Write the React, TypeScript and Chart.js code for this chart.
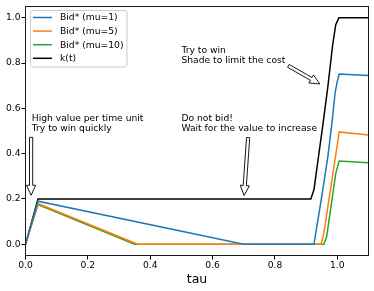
import React, { useEffect, useRef } from "react";
import { Chart, registerables } from "chart.js";

Chart.register(...registerables);

// ---- data ----
const seriesLabels = ["Bid* (mu=1)", "Bid* (mu=5)", "Bid* (mu=10)", "k(t)"];
const seriesColors = ["#1f77b4", "#ff7f0e", "#2ca02c", "#000000"];

const tauMu1 = [0, 0.04, 0.7, 0.925, 0.95, 0.97, 0.984, 0.993, 1.0, 1.006, 1.1];
const bidMu1 = [0, 0.19, 0, 0, 0.21, 0.39, 0.55, 0.67, 0.72, 0.752, 0.745];

const tauMu5 = [0, 0.04, 0.36, 0.948, 0.957, 0.989, 1.0, 1.006, 1.1];
const bidMu5 = [0, 0.18, 0, 0, 0.05, 0.34, 0.44, 0.496, 0.482];

const tauMu10 = [0, 0.04, 0.35, 0.957, 0.966, 0.995, 1.006, 1.1];
const bidMu10 = [0, 0.175, 0, 0, 0.035, 0.313, 0.367, 0.36];

const tauK = [0, 0.04, 0.915, 0.925, 0.94, 0.955, 0.97, 0.985, 0.995, 1.005, 1.1];
const kVals = [0, 0.2, 0.2, 0.24, 0.39, 0.54, 0.7, 0.88, 0.97, 1.0, 1.0];

const xTicks = [0, 0.2, 0.4, 0.6, 0.8, 1.0];
const yTicks = [0, 0.2, 0.4, 0.6, 0.8, 1.0];
const xMin = 0, xMax = 1.1, yMin = -0.05, yMax = 1.05;
const xTitle = "tau";

// annotations (data coordinates)
const noteTexts = [
  ["High value per time unit", "Try to win quickly"],
  ["Do not bid!", "Wait for the value to increase"],
  ["Try to win", "Shade to limit the cost"],
];
const notePos = [
  [0.02, 0.5],
  [0.5, 0.5],
  [0.5, 0.8],
];
const arrowFrom = [
  [0.018, 0.472],
  [0.714, 0.471],
  [0.843, 0.788],
];
const arrowTo = [
  [0.018, 0.216],
  [0.701, 0.215],
  [0.944, 0.708],
];

const FONT = '"DejaVu Sans", sans-serif';

const toPts = (xs: number[], ys: number[]) => xs.map((x, i) => ({ x, y: ys[i] }));

const overlayPlugin = {
  id: "overlay",
  afterDatasetsDraw(chart: any) {
    const ctx = chart.ctx as CanvasRenderingContext2D;
    const { left, right, top, bottom } = chart.chartArea;
    const xs = chart.scales.x;
    const ys = chart.scales.y;
    ctx.save();

    // frame
    ctx.strokeStyle = "#1a1a1a";
    ctx.lineWidth = 1;
    ctx.strokeRect(left, top, right - left, bottom - top);

    // arrows
    for (let i = 0; i < arrowFrom.length; i++) {
      const sx = xs.getPixelForValue(arrowFrom[i][0]);
      const sy = ys.getPixelForValue(arrowFrom[i][1]);
      const tx = xs.getPixelForValue(arrowTo[i][0]);
      const ty = ys.getPixelForValue(arrowTo[i][1]);
      const len = Math.hypot(tx - sx, ty - sy);
      const dx = (tx - sx) / len, dy = (ty - sy) / len;
      const nx = -dy, ny = dx;
      const hl = 10, hw = 4.6, sw = 1.6;
      const bx = tx - dx * hl, by = ty - dy * hl;
      ctx.beginPath();
      ctx.moveTo(sx + nx * sw, sy + ny * sw);
      ctx.lineTo(bx + nx * sw, by + ny * sw);
      ctx.lineTo(bx + nx * hw, by + ny * hw);
      ctx.lineTo(tx, ty);
      ctx.lineTo(bx - nx * hw, by - ny * hw);
      ctx.lineTo(bx - nx * sw, by - ny * sw);
      ctx.lineTo(sx - nx * sw, sy - ny * sw);
      ctx.closePath();
      ctx.fillStyle = "#fff";
      ctx.fill();
      ctx.strokeStyle = "#000";
      ctx.lineWidth = 0.9;
      ctx.stroke();
    }

    // annotation texts
    ctx.fillStyle = "#000";
    ctx.font = `9.2px ${FONT}`;
    ctx.textAlign = "left";
    ctx.textBaseline = "alphabetic";
    for (let i = 0; i < noteTexts.length; i++) {
      const px = xs.getPixelForValue(notePos[i][0]);
      const py = ys.getPixelForValue(notePos[i][1]);
      const lines = noteTexts[i];
      for (let j = 0; j < lines.length; j++) {
        ctx.fillText(lines[j], px, py - (lines.length - 1 - j) * 10);
      }
    }

    // legend
    const lx = 30.5, ly = 10.5, lw = 96.5, lh = 56.5, r = 2.5;
    ctx.beginPath();
    ctx.moveTo(lx + r, ly);
    ctx.lineTo(lx + lw - r, ly);
    ctx.quadraticCurveTo(lx + lw, ly, lx + lw, ly + r);
    ctx.lineTo(lx + lw, ly + lh - r);
    ctx.quadraticCurveTo(lx + lw, ly + lh, lx + lw - r, ly + lh);
    ctx.lineTo(lx + r, ly + lh);
    ctx.quadraticCurveTo(lx, ly + lh, lx, ly + lh - r);
    ctx.lineTo(lx, ly + r);
    ctx.quadraticCurveTo(lx, ly, lx + r, ly);
    ctx.closePath();
    ctx.fillStyle = "rgba(255,255,255,0.8)";
    ctx.fill();
    ctx.strokeStyle = "#cccccc";
    ctx.lineWidth = 1;
    ctx.stroke();
    ctx.textBaseline = "middle";
    chart.data.datasets.forEach((ds: any, i: number) => {
      const y = 17.5 + i * 13.6;
      ctx.strokeStyle = ds.borderColor;
      ctx.lineWidth = 1.5;
      ctx.beginPath();
      ctx.moveTo(33, y);
      ctx.lineTo(52, y);
      ctx.stroke();
      ctx.fillStyle = "#000";
      ctx.fillText(ds.label, 60, y + 0.5);
    });

    // x title
    ctx.font = `12.5px ${FONT}`;
    ctx.textAlign = "center";
    ctx.textBaseline = "alphabetic";
    ctx.fillStyle = "#000";
    ctx.fillText(xTitle, (left + right) / 2, 282.5);

    ctx.restore();
  },
};

export default function App() {
  const ref = useRef<HTMLCanvasElement | null>(null);
  useEffect(() => {
    document.body.style.margin = "0";
    const canvas = ref.current!;
    const tickFont = { family: FONT, size: 9.2 };
    const chart = new Chart(canvas, {
      type: "line",
      data: {
        datasets: [
          { label: seriesLabels[0], data: toPts(tauMu1, bidMu1), borderColor: seriesColors[0] },
          { label: seriesLabels[1], data: toPts(tauMu5, bidMu5), borderColor: seriesColors[1] },
          { label: seriesLabels[2], data: toPts(tauMu10, bidMu10), borderColor: seriesColors[2] },
          { label: seriesLabels[3], data: toPts(tauK, kVals), borderColor: seriesColors[3] },
        ] as any,
      },
      options: {
        animation: false,
        responsive: false,
        devicePixelRatio: 1,
        layout: { padding: { top: 5.5, right: 5.5, left: 0, bottom: 0 } },
        plugins: { legend: { display: false }, tooltip: { enabled: false } },
        elements: {
          point: { radius: 0 },
          line: { tension: 0, borderWidth: 1.5, fill: false },
        },
        scales: {
          x: {
            type: "linear",
            min: xMin,
            max: xMax,
            afterBuildTicks: (s: any) => {
              s.ticks = xTicks.map((v) => ({ value: v }));
            },
            afterFit: (s: any) => {
              s.height = 35.5;
            },
            ticks: {
              font: tickFont,
              color: "#000",
              padding: 1,
              autoSkip: false,
              maxRotation: 0,
              callback: (v: any) => Number(v).toFixed(1),
            },
            grid: { drawOnChartArea: false, tickLength: 4, tickColor: "#000", tickWidth: 1 },
            border: { display: false },
          },
          y: {
            type: "linear",
            min: yMin,
            max: yMax,
            afterBuildTicks: (s: any) => {
              s.ticks = yTicks.map((v) => ({ value: v }));
            },
            afterFit: (s: any) => {
              s.width = 25.5;
            },
            ticks: {
              font: tickFont,
              color: "#000",
              padding: 1,
              autoSkip: false,
              callback: (v: any) => Number(v).toFixed(1),
            },
            grid: { drawOnChartArea: false, tickLength: 4, tickColor: "#000", tickWidth: 1 },
            border: { display: false },
          },
        },
      } as any,
      plugins: [overlayPlugin],
    });
    return () => chart.destroy();
  }, []);
  return (
    <div style={{ position: "absolute", left: 0, top: 0, width: 374, height: 291, background: "#fff" }}>
      <canvas ref={ref} width={374} height={291} style={{ width: 374, height: 291, display: "block" }} />
    </div>
  );
}
